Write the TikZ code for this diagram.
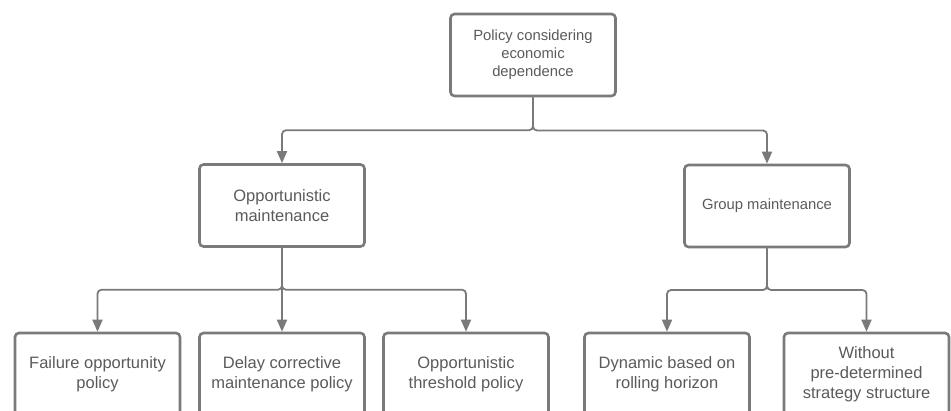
\documentclass[tikz,border=0pt]{standalone}
\usepackage{fontspec}
\setmainfont{Liberation Sans}
\usetikzlibrary{arrows.meta,calc}
\definecolor{linegray}{RGB}{122,122,122}
\definecolor{textgray}{RGB}{90,90,90}
\begin{document}
\begin{tikzpicture}[x=1pt,y=-1pt,
        box/.style={draw=linegray,line width=2.6pt,rounded corners=4pt,
            minimum width=165pt,minimum height=82pt,align=center,
            text=textgray,font=\fontsize{16.5}{20}\selectfont},
        smallbox/.style={box,font=\fontsize{14.8}{18}\selectfont},
        link/.style={draw=linegray,line width=1.8pt,rounded corners=4pt,
            -{Triangle[width=10pt,length=12pt]}}]
            \clip (0,0) rectangle (951,411);
            \node[smallbox] (policy) at (533,55)
                {Policy considering\\economic\\dependence};
            \node[box] (opp) at (282,205.5)
                {Opportunistic\\maintenance};
            \node[smallbox] (group) at (767,206)
                {Group maintenance};
            \node[box] (fail) at (97.5,374)
                {Failure opportunity\\policy};
            \node[box] (delay) at (282,374)
                {Delay corrective\\maintenance policy};
            \node[box] (thresh) at (466,374)
                {Opportunistic\\threshold policy};
            \node[box] (dyn) at (667,374)
                {Dynamic based on\\rolling horizon};
            \node[box] (without) at (866.5,374)
                {Without\\pre-determined\\strategy structure};
            \foreach \child in {opp,group}
                \draw[link] (policy.south) |- ($(policy.south)!0.5!(\child.north)$)
                    -| (\child.north);
            \foreach \child in {fail,thresh}
                \draw[link] (opp.south) |- ($(opp.south)!0.5!(\child.north)$)
                    -| (\child.north);
            \draw[link] (opp.south) -- (delay.north);
            \foreach \child in {dyn,without}
                \draw[link] (group.south) |- ($(group.south)!0.5!(\child.north)$)
                    -| (\child.north);
        \end{tikzpicture}
\end{document}
